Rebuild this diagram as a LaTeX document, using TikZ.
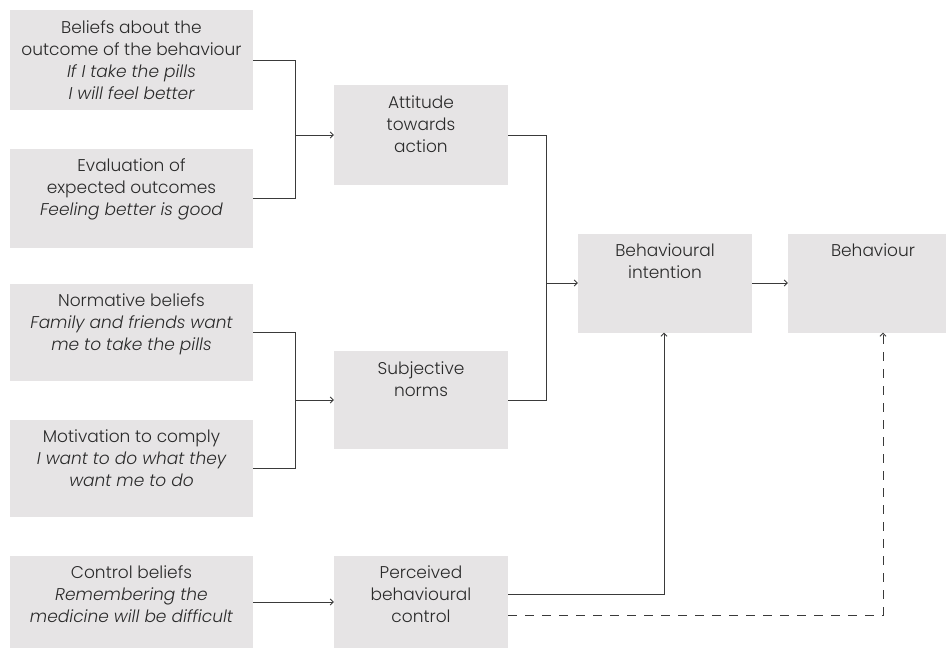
\documentclass[tikz,border=0pt]{standalone}
\usepackage{fontspec}
\IfFontExistsTF{Poppins Light}
  {\setmainfont{Poppins Light}[ItalicFont=Poppins Light Italic]}
  {\setmainfont{Poppins}}
\usetikzlibrary{arrows.meta,positioning}
\definecolor{boxgrey}{HTML}{E6E4E5}
\definecolor{inkgrey}{HTML}{2A2A2A}
\definecolor{linegrey}{HTML}{3A3A3A}
\begin{document}
\begin{tikzpicture}[x=1pt,y=-1pt,
  box/.style={fill=boxgrey,draw=none,rectangle,inner sep=0pt},
  txt/.style={anchor=north,inner sep=0pt,align=center,text=inkgrey,
    font=\fontsize{17}{22}\selectfont},
  link/.style={draw=linegrey,line width=0.8pt},
  arr/.style={link,-{Straight Barb[length=3pt,width=6pt]}},
  dashlink/.style={arr,dash pattern=on 9pt off 8pt}]
\useasboundingbox (0,0) rectangle (946,648);

% left column: beliefs
\node[box,minimum width=243pt,minimum height=100pt] (b1) at (131.5,60) {};
\node[box,minimum width=243pt,minimum height=99pt] (b2) at (131.5,198) {};
\node[box,minimum width=243pt,minimum height=97pt] (b3) at (131.5,332) {};
\node[box,minimum width=243pt,minimum height=97pt] (b4) at (131.5,468) {};
\node[box,minimum width=243pt,minimum height=93pt] (b5) at (131.5,602) {};

% middle column: determinants
\node[box,minimum width=174pt,minimum height=100pt] (att) at (421,135) {};
\node[box,minimum width=174pt,minimum height=98pt] (sub) at (421,400) {};
\node[box,minimum width=174pt,minimum height=93pt] (pbc) at (421,602) {};

% right: intention and behaviour (the latter runs past the right edge)
\node[box,minimum width=174pt,minimum height=99pt] (int) at (665,283) {};
\node[box,minimum width=170pt,minimum height=99pt] (beh) at (873,283) {};

% box texts, set from the top edge
\node[txt] (b1t) at ([yshift=-10.5pt]b1.north) {Beliefs about the\\outcome of the behaviour\\{\itshape If I take the pills}\\{\itshape I will feel better}};
\node[txt] (b2t) at ([yshift=-10.5pt]b2.north) {Evaluation of\\expected outcomes\\{\itshape Feeling better is good}};
\node[txt] (b3t) at ([yshift=-10.5pt]b3.north) {Normative beliefs\\{\itshape Family and friends want}\\{\itshape me to take the pills}};
\node[txt] (b4t) at ([yshift=-10.5pt]b4.north) {Motivation to comply\\{\itshape I want to do what they}\\{\itshape want me to do}};
\node[txt] (b5t) at ([yshift=-10.5pt]b5.north) {Control beliefs\\{\itshape Remembering the}\\{\itshape medicine will be difficult}};
\node[txt] (attt) at ([yshift=-10.5pt]att.north) {Attitude\\towards\\action};
\node[txt] (subt) at ([yshift=-10.5pt]sub.north) {Subjective\\norms};
\node[txt] (pbct) at ([yshift=-10.5pt]pbc.north) {Perceived\\behavioural\\control};
\node[txt] (intt) at ([yshift=-10.5pt]int.north) {Behavioural\\intention};
\node[txt] (beht) at ([yshift=-10.5pt]beh.north) {Behaviour};

% junction columns
\coordinate (j1) at (295,0);
\coordinate (j2) at (546,0);

% beliefs -> attitude
\draw[link] (b1.east) -| (j1 |- b2.east) -- (b2.east);
\draw[arr] (j1 |- att.west) -- (att.west);
% normative beliefs -> subjective norms
\draw[link] (b3.east) -| (j1 |- b4.east) -- (b4.east);
\draw[arr] (j1 |- sub.west) -- (sub.west);
% attitude, norms -> intention
\draw[link] (att.east) -| (j2 |- sub.east) -- (sub.east);
\draw[arr] (j2 |- int.west) -- (int.west);
% intention -> behaviour
\draw[arr] (int.east) -- (beh.west);
% control beliefs -> perceived control
\draw[arr] (b5.east) -- (pbc.east -| pbc.west);
% perceived control -> intention, and (dashed) -> behaviour
\draw[arr] ([yshift=8pt]pbc.east) -| ([xshift=-1pt]int.south);
\draw[dashlink] ([yshift=-13pt]pbc.east) -| ([xshift=10pt]beh.south);
\end{tikzpicture}
\end{document}
